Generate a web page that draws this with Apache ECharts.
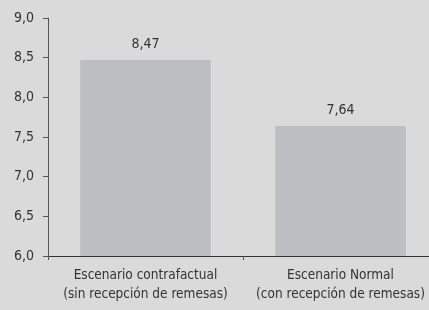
<!DOCTYPE html>
<html>
<head>
<meta charset="utf-8">
<script src="https://cdn.jsdelivr.net/npm/echarts@6/dist/echarts.min.js"></script>
<style>
  html, body { margin: 0; padding: 0; background: #dadada; }
  #chart { width: 429px; height: 310px; }
</style>
</head>
<body>
<div id="chart"></div>
<script>
var categories = ['Escenario contrafactual\n(sin recepción de remesas)', 'Escenario Normal\n(con recepción de remesas)'];
var values = [8.47, 7.64];

var fontFam = '"Liberation Sans Narrow", "DejaVu Sans Condensed", sans-serif';
var fmt = function (v) { return v.toFixed(2).replace('.', ','); };

var chart = echarts.init(document.getElementById('chart'));
chart.setOption({
    backgroundColor: '#dadada',
    animation: false,
    grid: { left: 48, width: 390, top: 18, height: 238, outerBoundsMode: 'none', containLabel: false },
    xAxis: {
        type: 'category',
        data: categories,
        axisLine: { lineStyle: { color: '#333', width: 1 } },
        axisTick: { show: true, alignWithLabel: false, length: 4, lineStyle: { color: '#555' } },
        axisLabel: { color: '#333', fontFamily: fontFam, fontSize: 13.5, lineHeight: 19, margin: 10, interval: 0 }
    },
    yAxis: {
        type: 'value',
        min: 6, max: 9, interval: 0.5,
        axisLine: { show: true, lineStyle: { color: '#555' } },
        axisTick: { show: true, length: 5, lineStyle: { color: '#555' } },
        splitLine: { show: false },
        axisLabel: {
            color: '#333', fontFamily: fontFam, fontSize: 14, margin: 14,
            formatter: function (v) { return v.toFixed(1).replace('.', ','); }
        }
    },
    series: [{
        type: 'bar',
        data: values,
        barCategoryGap: '33%',
        itemStyle: { color: '#bdbec2' },
        label: {
            show: true, position: 'top', distance: 9,
            color: '#333', fontFamily: fontFam, fontSize: 14,
            formatter: function (p) { return fmt(p.value); }
        }
    }]
});
</script>
</body>
</html>
